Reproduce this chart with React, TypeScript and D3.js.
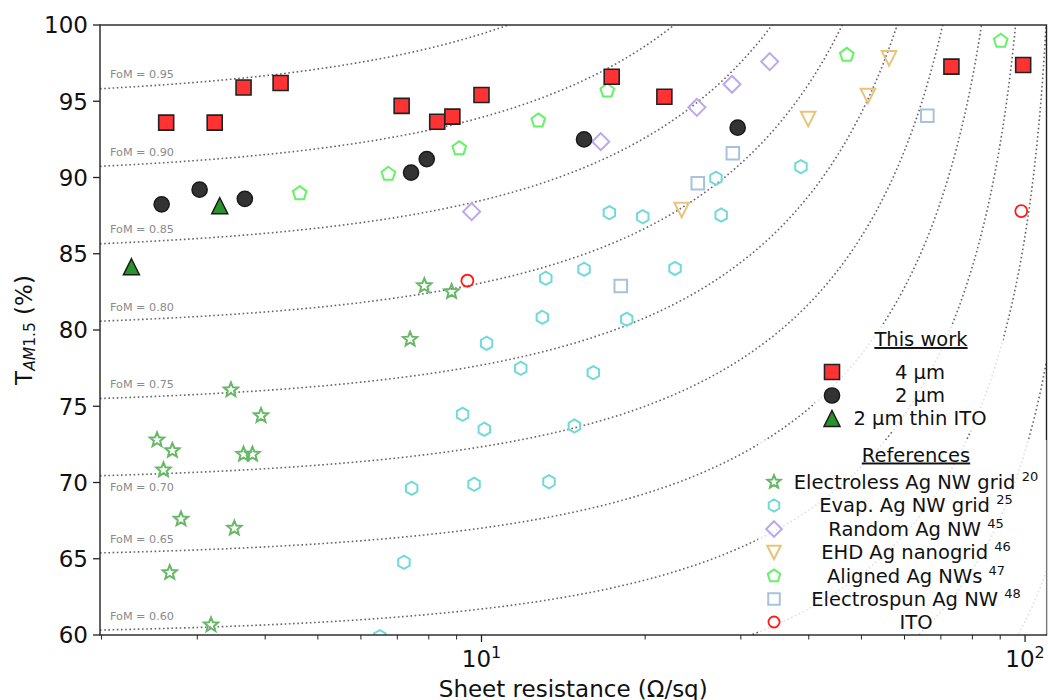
import React from 'react';
import * as d3 from 'd3';

// ---------------- data ----------------
const xDomain = [1.987, 109.5];
const yDomain = [60, 100];
const yTicks = [60, 65, 70, 75, 80, 85, 90, 95, 100];
const xMajorTicks = [10, 100];
const xMajorExp = ['1', '2'];
const xMinorTicks = [2, 3, 4, 5, 6, 7, 8, 9, 20, 30, 40, 50, 60, 70, 80, 90];

const fomLevels = [0.95, 0.9, 0.85, 0.8, 0.75, 0.7, 0.65, 0.6, 0.55, 0.5, 0.45];
const fomLabelLevels = [0.95, 0.9, 0.85, 0.8, 0.75, 0.7, 0.65, 0.6];
const fomLabelBelow = [0.7];

// This work
const sq4Rs = [2.63, 3.23, 3.65, 4.27, 7.13, 8.29, 8.84, 10.0, 17.36, 21.7, 73.2, 99.2];
const sq4T = [93.6, 93.6, 95.9, 96.2, 94.7, 93.66, 93.99, 95.41, 96.61, 95.3, 97.27, 97.38];
const c2Rs = [2.58, 3.03, 3.67, 7.42, 7.93, 15.44, 29.6];
const c2T = [88.24, 89.2, 88.6, 90.32, 91.21, 92.5, 93.27];
const thinRs = [2.27, 3.3];
const thinT = [84.15, 88.15];

// References
const starRs = [3.46, 3.93, 2.53, 2.7, 2.6, 3.65, 3.79, 2.8, 3.51, 2.67, 3.18, 7.85, 8.81, 7.39];
const starT = [76.07, 74.38, 72.79, 72.09, 70.82, 71.85, 71.85, 67.6, 67.0, 64.09, 60.66, 82.9, 82.51, 79.39];
const hexRs = [17.19, 19.8, 15.44, 13.13, 22.7, 12.94, 18.5, 10.22, 27.0, 27.6, 38.7, 11.81, 16.06, 9.23, 10.12, 14.82, 7.44, 9.69, 13.31, 7.2, 6.5];
const hexT = [87.69, 87.43, 83.98, 83.39, 84.04, 80.83, 80.7, 79.13, 89.95, 87.54, 90.71, 77.49, 77.2, 74.47, 73.49, 73.7, 69.62, 69.88, 70.05, 64.77, 59.89];
const diaRs = [9.59, 16.57, 24.9, 28.9, 33.9];
const diaT = [87.76, 92.35, 94.6, 96.11, 97.6];
const ehdRs = [23.35, 39.9, 51.4, 56.2];
const ehdT = [87.87, 93.84, 95.34, 97.81];
const pentRs = [4.63, 6.74, 9.1, 12.72, 17.04, 47.0, 90.2];
const pentT = [88.96, 90.23, 91.91, 93.73, 95.69, 98.03, 98.95];
const spunRs = [18.04, 25.0, 29.0, 66.1];
const spunT = [82.89, 89.62, 91.59, 94.05];
const itoRs = [9.42, 98.4];
const itoT = [83.23, 87.8];

const thisWorkLabels = ['4 μm', '2 μm', '2 μm thin ITO'];
const refLabels = ['Electroless Ag NW grid', 'Evap. Ag NW grid', 'Random Ag NW', 'EHD Ag nanogrid', 'Aligned Ag NWs', 'Electrospun Ag NW', 'ITO'];
const refNums = ['20', '25', '45', '46', '47', '48', ''];

// ---------------- layout ----------------
const W = 1048;
const H = 700;
const L = 100, R = 1046.5, T0 = 25, B = 635;
const FONT = '"DejaVu Sans", Verdana, sans-serif';

type Shape = 'square' | 'circle' | 'triUp' | 'triDown' | 'star' | 'hex' | 'diamond' | 'pent';

function poly(n: number, s: number, rot: number): string {
  const pts = d3.range(n).map((k) => {
    const a = ((rot + (k * 360) / n) * Math.PI) / 180;
    return [s * Math.cos(a), s * Math.sin(a)];
  });
  return 'M' + pts.map((p) => p[0].toFixed(2) + ',' + p[1].toFixed(2)).join('L') + 'Z';
}
function star(s: number, ri: number): string {
  const pts = d3.range(10).map((k) => {
    const a = ((-90 + k * 36) * Math.PI) / 180;
    const r = k % 2 === 0 ? s : s * ri;
    return [r * Math.cos(a), r * Math.sin(a)];
  });
  return 'M' + pts.map((p) => p[0].toFixed(2) + ',' + p[1].toFixed(2)).join('L') + 'Z';
}
function markerPath(shape: Shape, s: number): string {
  switch (shape) {
    case 'square':
      return `M${-s},${-s}h${2 * s}v${2 * s}h${-2 * s}Z`;
    case 'circle':
      return `M${s},0A${s},${s},0,1,1,${-s},0A${s},${s},0,1,1,${s},0Z`;
    case 'triUp':
      return `M0,${-s}L${s},${s}L${-s},${s}Z`;
    case 'triDown':
      return `M0,${s}L${s},${-s}L${-s},${-s}Z`;
    case 'diamond':
      return `M0,${-s}L${s},0L0,${s}L${-s},0Z`;
    case 'hex':
      return poly(6, s, -90);
    case 'pent':
      return poly(5, s, -90);
    case 'star':
      return star(s, 0.44);
  }
}

interface Series {
  xs: number[];
  ys: number[];
  shape: Shape;
  size: number;
  fill: string;
  stroke: string;
  sw: number;
}

const refSeries: Series[] = [
  { xs: starRs, ys: starT, shape: 'star', size: 7.5, fill: 'none', stroke: '#66b866', sw: 2 },
  { xs: hexRs, ys: hexT, shape: 'hex', size: 6.6, fill: 'none', stroke: '#70dada', sw: 2 },
  { xs: diaRs, ys: diaT, shape: 'diamond', size: 8.5, fill: 'none', stroke: '#bba8ec', sw: 2 },
  { xs: ehdRs, ys: ehdT, shape: 'triDown', size: 7.3, fill: 'none', stroke: '#e8c47a', sw: 2 },
  { xs: pentRs, ys: pentT, shape: 'pent', size: 7.2, fill: 'none', stroke: '#66f266', sw: 2 },
  { xs: spunRs, ys: spunT, shape: 'square', size: 6.3, fill: 'none', stroke: '#a6c2dc', sw: 2 },
  { xs: itoRs, ys: itoT, shape: 'circle', size: 6, fill: 'none', stroke: '#ff1a1a', sw: 1.8 },
];
const workSeries: Series[] = [
  { xs: sq4Rs, ys: sq4T, shape: 'square', size: 7.5, fill: '#ff3333', stroke: '#222222', sw: 1.6 },
  { xs: c2Rs, ys: c2T, shape: 'circle', size: 7.6, fill: '#333333', stroke: '#1a1a1a', sw: 1.5 },
  { xs: thinRs, ys: thinT, shape: 'triUp', size: 8, fill: '#2a922a', stroke: '#1a1a1a', sw: 1.5 },
];

// FoM iso-lines: FoM = T * (1 - a*Rs*T + b*(Rs*T)^2)
const FA = 0.0045;
const FB = 3.5e-6;
function fomT(F: number, Rs: number): number {
  let lo = 0;
  let hi = 1.1;
  const f = (t: number) => t * (1 - FA * Rs * t + FB * Rs * Rs * t * t);
  if (f(hi) < F) return 110;
  for (let i = 0; i < 60; i++) {
    const mid = (lo + hi) / 2;
    if (f(mid) < F) lo = mid;
    else hi = mid;
  }
  return lo * 100;
}

export default function App() {
  const x = d3.scaleLog().domain(xDomain).range([L, R]);
  const y = d3.scaleLinear().domain(yDomain).range([B, T0]);

  const lg0 = Math.log10(xDomain[0]);
  const lg1 = Math.log10(xDomain[1]);
  const samples = d3.range(0, 501).map((i) => Math.pow(10, lg0 + ((lg1 - lg0) * i) / 500));
  const line = d3
    .line<[number, number]>()
    .x((d) => x(d[0]))
    .y((d) => y(d[1]));

  const labelRs = x.invert(110);

  const drawSeries = (s: Series, key: string) =>
    s.xs.map((v, i) => (
      <path
        key={key + i}
        d={markerPath(s.shape, s.size)}
        transform={`translate(${x(v)},${y(s.ys[i])})`}
        fill={s.fill}
        stroke={s.stroke}
        strokeWidth={s.sw}
        strokeLinejoin="miter"
      />
    ));

  const twRows = [372, 395.5, 418.5];
  const refRows = [482, 505.5, 529, 552.5, 576, 599, 622];
  const twMarkX = 832;
  const refMarkX = 774;
  const LF = 19.5;

  return (
    <svg
      width={W}
      height={H}
      viewBox={`0 0 ${W} ${H}`}
      style={{ position: 'absolute', left: 0, top: 0, background: '#fff' }}
      fontFamily={FONT}
    >
      <defs>
        <clipPath id="plotClip">
          <rect x={L} y={T0} width={R - L} height={B - T0} />
        </clipPath>
      </defs>
      <rect x={0} y={0} width={W} height={H} fill="#fff" />

      {/* FoM curves */}
      <g clipPath="url(#plotClip)">
        {fomLevels.map((F) => (
          <path
            key={'f' + F}
            d={line(samples.map((r) => [r, fomT(F, r)] as [number, number])) || ''}
            fill="none"
            stroke="#666"
            strokeWidth={1.6}
            strokeDasharray="1.6 2.6"
          />
        ))}
      </g>
      {fomLabelLevels.map((F) => {
        const below = fomLabelBelow.includes(F);
        const cy = y(fomT(F, labelRs));
        return (
          <text key={'fl' + F} x={110} y={below ? cy + 15.5 : cy - 10} fontSize={11.2} fill="#8a8a8a">
            {`FoM = ${F.toFixed(2)}`}
          </text>
        );
      })}

      {/* data */}
      <g clipPath="url(#plotClip)">
        {refSeries.map((s, i) => drawSeries(s, 'r' + i))}
        {workSeries.map((s, i) => drawSeries(s, 'w' + i))}
      </g>

      {/* axes frame */}
      <rect x={L} y={T0} width={R - L} height={B - T0} fill="none" stroke="#222" strokeWidth={1.4} />
      {yTicks.map((t) => (
        <g key={'yt' + t}>
          <line x1={L - 7} x2={L} y1={y(t)} y2={y(t)} stroke="#222" strokeWidth={1.3} />
          <text x={88} y={y(t) + 8.3} fontSize={23} textAnchor="end" fill="#111">
            {t}
          </text>
        </g>
      ))}
      {xMinorTicks.map((t) => (
        <line key={'xm' + t} x1={x(t)} x2={x(t)} y1={B} y2={B + 4.5} stroke="#222" strokeWidth={1} />
      ))}
      {xMajorTicks.map((t, i) => (
        <g key={'xM' + t}>
          <line x1={x(t)} x2={x(t)} y1={B} y2={B + 7} stroke="#222" strokeWidth={1.3} />
          <text x={x(t)} y={667} fontSize={23} textAnchor="middle" fill="#111">
            10
            <tspan fontSize={16} dy={-9}>
              {xMajorExp[i]}
            </tspan>
          </text>
        </g>
      ))}

      {/* axis labels */}
      <text x={(L + R) / 2} y={696.5} fontSize={23} textAnchor="middle" fill="#111">
        Sheet resistance (Ω/sq)
      </text>
      <text transform={`translate(32,330) rotate(-90)`} fontSize={23} textAnchor="middle" fill="#111">
        T
        <tspan fontSize={15.5} dy={3}>
          <tspan fontStyle="italic">AM</tspan>1.5
        </tspan>
        <tspan dy={-3}> (%)</tspan>
      </text>

      {/* legends */}
      <rect x={815} y={324} width={188} height={107} fill="#fff" fillOpacity={0.8} />
      <rect x={758} y={440} width={288.5} height={194} fill="#fff" fillOpacity={0.8} />

      <text x={921} y={346} fontSize={LF} textAnchor="middle" fill="#111" textDecoration="underline">
        This work
      </text>
      {workSeries.map((s, i) => (
        <g key={'twl' + i}>
          <path
            d={markerPath(s.shape, s.size)}
            transform={`translate(${twMarkX},${twRows[i]})`}
            fill={s.fill}
            stroke={s.stroke}
            strokeWidth={s.sw}
          />
          <text x={920} y={twRows[i] + 6.5} fontSize={LF} textAnchor="middle" fill="#111">
            {thisWorkLabels[i]}
          </text>
        </g>
      ))}

      <text x={916} y={461.5} fontSize={LF} textAnchor="middle" fill="#111" textDecoration="underline">
        References
      </text>
      {refSeries.map((s, i) => (
        <g key={'rfl' + i}>
          <path
            d={markerPath(s.shape, s.size * 0.92)}
            transform={`translate(${refMarkX},${refRows[i]})`}
            fill={s.fill}
            stroke={s.stroke}
            strokeWidth={s.sw}
          />
          <text x={916} y={refRows[i] + 6.5} fontSize={LF} textAnchor="middle" fill="#111" xmlSpace="preserve">
            {refNums[i] ? refLabels[i] + ' ' : refLabels[i]}
            {refNums[i] ? (
              <tspan fontSize={13} dy={-8}>
                {refNums[i]}
              </tspan>
            ) : null}
          </text>
        </g>
      ))}
    </svg>
  );
}
